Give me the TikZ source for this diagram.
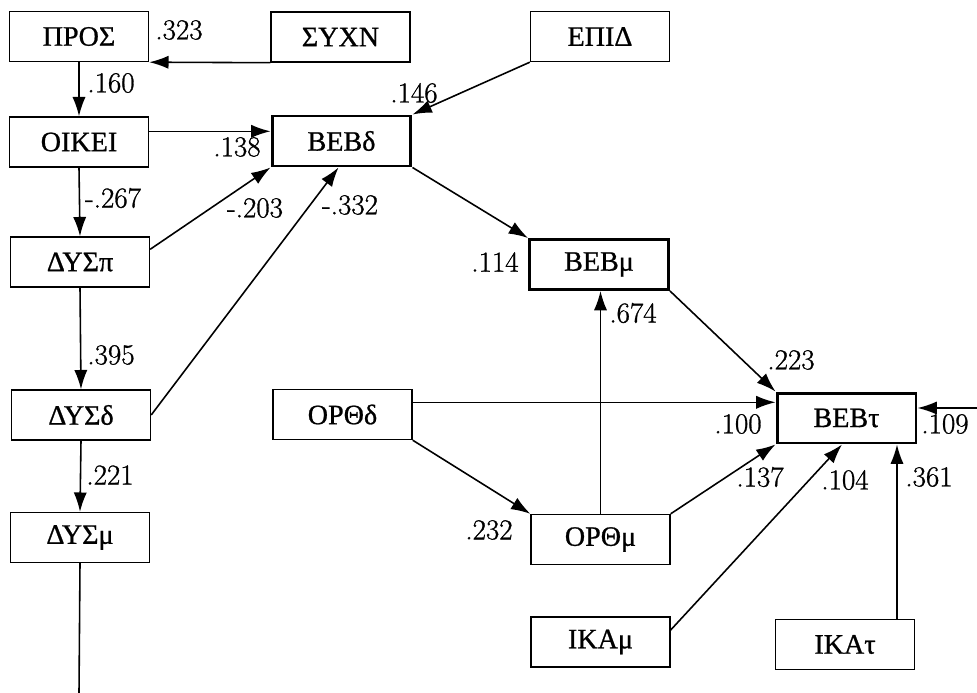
\documentclass[tikz,border=0pt]{standalone}
\usepackage{fontspec}
\newfontfamily\grfont[FakeBold=0.8]{Liberation Serif}
\newfontfamily\numfont[FakeBold=1]{Latin Modern Roman}
\usetikzlibrary{arrows.meta}

\begin{document}
\begin{tikzpicture}[x=0.02cm,y=-0.02cm,
	var/.style={draw,line width=0.8pt,minimum width=2.78cm,minimum height=1cm,inner sep=0pt,font=\grfont\fontsize{16}{18}\selectfont},
	beb/.style={var,line width=1.7pt},
	coef/.style={inner sep=0pt,font=\numfont\fontsize{16.5}{18}\selectfont},
	path/.style={line width=0.9pt,-{Latex[length=11pt,width=7.5pt]}}]
	\useasboundingbox (0,0) rectangle (977,693);
	\node[var] (pros) at (79,36.5) {ΠΡΟΣ};
	\node[var] (sychn) at (340.5,37) {ΣΥΧΝ};
	\node[var] (epid) at (600,36.5) {ΕΠΙΔ};
	\node[var] (oikei) at (79,142) {ΟΙΚΕΙ};
	\node[beb] (bebd) at (341.5,141) {ΒΕΒδ};
	\node[var] (dysp) at (80,262) {ΔΥΣπ};
	\node[var] (dysd) at (81,415) {ΔΥΣδ};
	\node[var] (dysm) at (80,537.5) {ΔΥΣμ};
	\node[beb] (bebm) at (599,264.5) {ΒΕΒμ};
	\node[var] (orthd) at (342.5,414.5) {ΟΡΘδ};
	\node[beb] (bebt) at (846.5,418) {ΒΕΒτ};
	\node[var] (orthm) at (600.5,539.5) {ΟΡΘμ};
	\node[var] (ikam) at (600.5,642) {ΙΚΑμ};
	\node[var] (ikat) at (845,644.5) {ΙΚΑτ};
	\coordinate (dysout) at (79,693);
	\coordinate (bebtin) at (977,408);
	\coordinate (oi) at ([yshift=-0.3cm]oikei.north east);
	\coordinate (od) at ([yshift=-0.27cm]orthd.north east);
	\coordinate (it) at ([xshift=1.04cm]ikat.north);

	\draw[path] (sychn.south west) -- (pros.south east);
	\draw[path] (pros.south) -- (oikei.north);
	\draw[path] (oi) -- (oi -| bebd.west);
	\draw[path] (epid.south west) -- (bebd.north east);
	\draw[path] (oikei.south) -- (dysp.north);
	\draw[path] ([yshift=-0.26cm]dysp.north east) -- (bebd.south west);
	\draw[path] (dysd.east) -- ([xshift=-0.06cm]bebd.south);
	\draw[path] (dysp.south) -- (dysd.north);
	\draw[path] (dysd.south) -- (dysm.north);
	\draw[line width=0.9pt] (dysm.south) -- (dysout);
	\draw[path] (bebd.south east) -- (bebm.north west);
	\draw[path] (orthm.north) -- (orthm.north |- bebm.south);
	\draw[path] (bebm.south east) -- (bebt.north west);
	\draw[path] (od) -- (od -| bebt.west);
	\draw[path] (orthd.south east) -- (orthm.north west);
	\draw[path] (orthm.north east) -- (bebt.south west);
	\draw[path] ([yshift=0.24cm]ikam.east) -- ([xshift=-0.09cm]bebt.south);
	\draw[path] (it) -- (it |- bebt.south);
	\draw[path] (bebtin) -- (bebtin -| bebt.east);

	\node[coef] (c323) at (179,30) {.323};
	\node[coef] (c160) at (111,83) {.160};
	\node[coef] (c146) at (414,93) {.146};
	\node[coef] (c138) at (237,147) {.138};
	\node[coef] (c267) at (113,198) {-.267};
	\node[coef] (c203) at (255,208) {-.203};
	\node[coef] (c332) at (350,205) {-.332};
	\node[coef] (c395) at (111,355) {.395};
	\node[coef] (c114) at (495,262) {.114};
	\node[coef] (c674) at (633,313) {.674};
	\node[coef] (c221) at (110,475) {.221};
	\node[coef] (c223) at (791,360) {.223};
	\node[coef] (c100) at (738,424) {.100};
	\node[coef] (c109) at (945,424) {.109};
	\node[coef] (c232) at (489,530) {.232};
	\node[coef] (c137) at (760,477) {.137};
	\node[coef] (c104) at (845,480) {.104};
	\node[coef] (c361) at (929,477) {.361};
\end{tikzpicture}
\end{document}
